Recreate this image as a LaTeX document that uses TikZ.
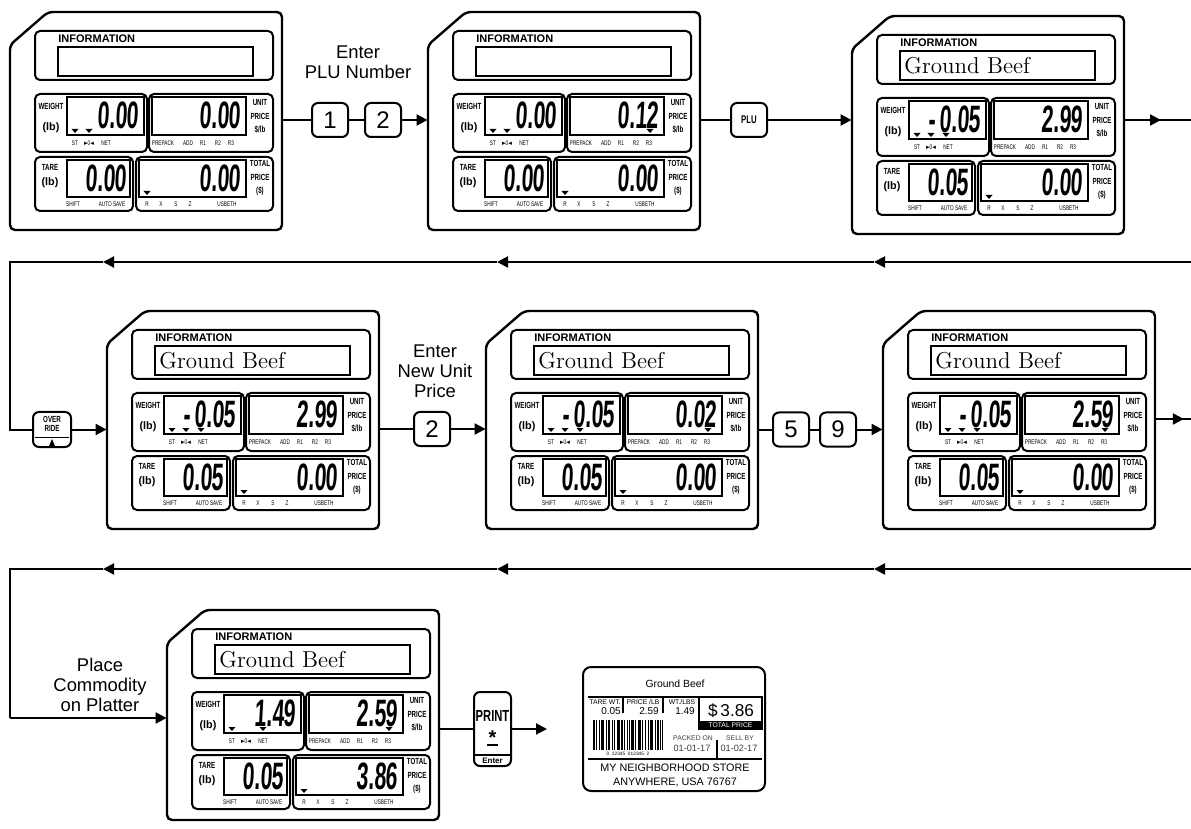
\documentclass[tikz,border=0pt]{standalone}
\usepackage{fontspec}
\usepackage{graphicx}
\usepackage{tikz}
\usetikzlibrary{arrows.meta, positioning, decorations.markings}

\newfontfamily\labelfont{Liberation Sans}
\newfontfamily\lcdfont[FakeSlant=0.1, BoldFeatures={FakeSlant=0.1}]{Liberation Sans}
\newfontfamily\symfont{DejaVu Sans}
% narrow look: small font, stretched upwards
\newcommand{\narrowtxt}[1]{\scalebox{1}[1.43]{#1}}
\newcommand{\lcdnum}[1]{\scalebox{1}[1.8]{#1}}

\def\disph{218}

% one scale display: name, top-left, info text, weight, weight marks,
% unit price, unit price mark colour, tare, total price
\newcommand{\scaledisp}[9]{%
  \begin{scope}[shift={(#2)}]
    \node[dispframe] (#1) at (136,109) {};
    \draw[dispouter] (0,33) -- (38,0) -- (272,0) -- (272,\disph) -- (0,\disph) -- cycle;
    % information
    \draw[lcdpanel] (25,19) rectangle (263,68);
    \node[infotag] at (48,27) {INFORMATION};
    \draw[lcdwin] (48,35) rectangle (243,64);
    \node[infotext] at (52,50) {#3};
    % weight
    \draw[lcdpanel] (25,82) rectangle (137,140);
    \draw[lcdwin] (57,85) rectangle (134,123);
    \node[tag] at (41,94) {\narrowtxt{WEIGHT}};
    \node[unittag] at (41,116) {(lb)};
    \node[digits] at (129,103) {\lcdnum{#4}};
    \foreach \tx in {#5} {\fill (\tx-3.5,117) -- (\tx+3.5,117) -- (\tx,121) -- cycle;}
    \node[smalltag] at (65,131) {\narrowtxt{ST}};
    \node[smalltag] at (79,131) {\narrowtxt{{\symfont ►}0{\symfont ◄}}};
    \node[smalltag] at (96,131) {\narrowtxt{NET}};
    % unit price
    \draw[lcdpanel] (139,82) rectangle (263,140);
    \draw[lcdwin] (142,85) rectangle (236,123);
    \node[digits] at (231,103) {\lcdnum{#6}};
    \fill[#7] (218.5,117) -- (225.5,117) -- (222,121) -- cycle;
    \node[stacktag] at (250,90) {\narrowtxt{UNIT}};
    \node[stacktag] at (250,104) {\narrowtxt{PRICE}};
    \node[stacktag] at (250,118) {\narrowtxt{\$/lb}};
    \node[smalltag] at (153,131) {\narrowtxt{PREPACK}};
    \node[smalltag] at (178,131) {\narrowtxt{ADD}};
    \node[smalltag] at (193,131) {\narrowtxt{R1}};
    \node[smalltag] at (208,131) {\narrowtxt{R2}};
    \node[smalltag] at (221,131) {\narrowtxt{R3}};
    % tare
    \draw[lcdpanel] (25,145) rectangle (123,199);
    \draw[lcdwin] (57,148) rectangle (120,185);
    \node[tag] at (40,155) {\narrowtxt{TARE}};
    \node[unittag] at (40,171) {(lb)};
    \node[digits] at (117,166) {\lcdnum{#8}};
    \node[smalltag] at (63,192) {\narrowtxt{SHIFT}};
    \node[smalltag] at (102,192) {\narrowtxt{AUTO SAVE}};
    % total price
    \draw[lcdpanel] (126,145) rectangle (263,199);
    \draw[lcdwin] (129,148) rectangle (236,185);
    \node[digits] at (231,166) {\lcdnum{#9}};
    \fill (133.5,179) -- (140.5,179) -- (137,183) -- cycle;
    \node[stacktag] at (250,151) {\narrowtxt{TOTAL}};
    \node[stacktag] at (250,165) {\narrowtxt{PRICE}};
    \node[stacktag] at (250,179) {\narrowtxt{(\$)}};
    \node[smalltag] at (137,192) {\narrowtxt{R}};
    \node[smalltag] at (151,192) {\narrowtxt{X}};
    \node[smalltag] at (166,192) {\narrowtxt{S}};
    \node[smalltag] at (180,192) {\narrowtxt{Z}};
    \node[smalltag] at (217,192) {\narrowtxt{USBETH}};
  \end{scope}}

\begin{document}
\begin{tikzpicture}[
    x=0.5pt, y=-0.5pt,
    dispframe/.style = {inner sep=0, minimum width=136pt, minimum height=109pt},
    dispouter/.style = {line width=1.2pt, rounded corners=2.5pt},
    lcdpanel/.style = {line width=1pt, rounded corners=2.5pt},
    lcdwin/.style = {line width=0.8pt},
    infotag/.style = {anchor=west, inner sep=0, font=\labelfont\bfseries\fontsize{5.5}{6}\selectfont},
    infotext/.style = {anchor=west, inner sep=0, font=\fontsize{11.5}{12}\selectfont},
    tag/.style = {inner sep=0, font=\labelfont\bfseries\fontsize{3.1}{4}\selectfont},
    unittag/.style = {inner sep=0, font=\labelfont\bfseries\fontsize{5.4}{6}\selectfont},
    stacktag/.style = {inner sep=0, font=\labelfont\bfseries\fontsize{3.1}{4}\selectfont},
    smalltag/.style = {inner sep=0, font=\labelfont\fontsize{2.35}{3}\selectfont},
    digits/.style = {anchor=east, inner sep=0, font=\lcdfont\bfseries\fontsize{10.6}{11}\selectfont},
    keybox/.style = {draw, line width=1pt, rounded corners=3pt, inner sep=0, minimum width=18pt, minimum height=17pt, font=\labelfont\fontsize{12}{12}\selectfont},
    steptext/.style = {align=center, font=\labelfont\fontsize{9.2}{10}\selectfont},
    conn/.style = {line width=1pt},
    flow/.style = {line width=1pt, -{Triangle[length=5.5pt,width=5.5pt]}},
    midarrow/.style = {postaction={decorate}, decoration={markings, mark=at position #1 with {\arrow{Triangle[length=5.5pt,width=5.5pt]}}}},
    labeltext/.style = {inner sep=0, font=\labelfont\fontsize{#1}{#1}\selectfont}
]
\useasboundingbox (0,0) rectangle (1191,829);

% displays
\scaledisp{d1}{10,12}{}{0.00}{65,79}{0.00}{white}{0.00}{0.00}
\scaledisp{d2}{428,12}{}{0.00}{65,79}{0.12}{black}{0.00}{0.00}
\scaledisp{d3}{852,16}{Ground Beef}{-\,0.05}{65,79,94}{2.99}{white}{0.05}{0.00}
\scaledisp{d4}{107,311}{Ground Beef}{-\,0.05}{65,79,94}{2.99}{white}{0.05}{0.00}
\scaledisp{d5}{486,311}{Ground Beef}{-\,0.05}{65,79,94}{0.02}{black}{0.05}{0.00}
\scaledisp{d6}{883,311}{Ground Beef}{-\,0.05}{65,79,94}{2.59}{black}{0.05}{0.00}
\def\disph{210}
\scaledisp{d7}{167,610}{Ground Beef}{1.49}{65,96}{2.59}{black}{0.05}{3.86}

% row 1
\node[steptext] (txtplu) at (358,62) {Enter\\PLU Number};
\node[keybox] (key1) at (330,120) {1};
\node[keybox, right=7.5pt of key1] (key2) {2};
\draw[conn] (key1 -| d1.east) -- (key1);
\draw[conn] (key1) -- (key2);
\draw[flow] (key2) -- (key2 -| d2.west);
\node[keybox, font=\labelfont\bfseries\fontsize{3.9}{4}\selectfont] (keyplu) at (749,120) {\narrowtxt{PLU}};
\draw[conn] (keyplu -| d2.east) -- (keyplu);
\draw[flow] (keyplu) -- (keyplu -| d3.west);
\coordinate (e1) at (1191,120);
\draw[conn, midarrow=0.55] (e1 -| d3.east) -- (e1);

% back to the left
\coordinate (s1r) at (1191,262);
\coordinate (s1a) at (874,262);
\coordinate (s1b) at (497,262);
\coordinate (s1c) at (103,262);
\coordinate (s1l) at (10,262);
\draw[flow] (s1r) -- (s1a);
\draw[flow] (s1a) -- (s1b);
\draw[flow] (s1b) -- (s1c);

% row 2
\node[keybox, minimum width=19pt, minimum height=17.5pt] (keyovr) at (52,429.5) {};
\node[tag] at (52,419) {\narrowtxt{OVER}};
\node[tag] at (52,428.5) {\narrowtxt{RIDE}};
\draw[line width=0.8pt] (35,437.5) -- (69,437.5);
\fill (52,439) -- (49,446) -- (55,446) -- cycle;
\draw[conn] (s1c) -- (s1l) |- (keyovr);
\draw[flow] (keyovr) -- (keyovr -| d4.west);
\node[steptext] (txtprice) at (435,371) {Enter\\New Unit\\Price};
\node[keybox] (keynew) at (432,429) {2};
\draw[conn] (keynew -| d4.east) -- (keynew);
\draw[flow] (keynew) -- (keynew -| d5.west);
\node[keybox] (key5) at (791,429.5) {5};
\node[keybox, right=4.5pt of key5] (key9) {9};
\draw[conn] (key5 -| d5.east) -- (key5);
\draw[conn] (key5) -- (key9);
\draw[flow] (key9) -- (key9 -| d6.west);
\coordinate (e2) at (1191,419);
\draw[conn, midarrow=0.8] (e2 -| d6.east) -- (e2);

% back to the left
\coordinate (s2r) at (1191,569);
\coordinate (s2a) at (874,569);
\coordinate (s2b) at (497,569);
\coordinate (s2c) at (103,569);
\coordinate (s2l) at (10,569);
\draw[flow] (s2r) -- (s2a);
\draw[flow] (s2a) -- (s2b);
\draw[flow] (s2b) -- (s2c);

% row 3
\coordinate (in7) at (100,718);
\node[steptext] (txtplace) at (100,685) {Place\\Commodity\\on Platter};
\draw[conn] (s2c) -- (s2l) -- (s2l |- in7);
\draw[flow] (s2l |- in7) -- (in7 -| d7.west);
\node[keybox, minimum width=18.5pt, minimum height=37pt] (keyprint) at (492.5,729) {};
\node[tag, font=\labelfont\bfseries\fontsize{5.6}{6}\selectfont] at (492.5,716) {\narrowtxt{PRINT}};
\node[tag, font=\labelfont\bfseries\fontsize{10}{10}\selectfont] at (492.5,738) {*};
\draw[line width=1pt] (487,745) -- (498,745);
\draw[line width=0.8pt] (475,755) -- (510,755);
\node[tag, font=\labelfont\bfseries\fontsize{4}{4}\selectfont] at (492.5,760.5) {Enter};
\coordinate (p8) at (547,729);
\draw[conn] (keyprint -| d7.east) -- (keyprint);
\draw[flow] (keyprint) -- (p8);

% printed label
\node[draw, line width=1pt, rounded corners=4pt, minimum width=91pt, minimum height=62pt] (lbl) at (674,729) {};
\node[labeltext=5.2] at (675,684) {Ground Beef};
\draw[line width=1pt] (588,697) -- (762,697);
\draw[line width=1.3pt] (623,697) -- (623,713);
\draw[line width=1.3pt] (663,697) -- (663,713);
\node[labeltext=3.4] at (605,702) {TARE WT.};
\node[labeltext=5] at (611,711) {0.05};
\node[labeltext=3.4] at (643,702) {PRICE /LB};
\node[labeltext=5] at (649,711) {2.59};
\node[labeltext=3.4] at (682,702) {WT./LBS};
\node[labeltext=5] at (685,711) {1.49};
\draw[line width=1pt] (699,697) rectangle (762,729);
\node[labeltext=8.6] at (731,711) {\$\,3.86};
\fill (699,721) rectangle (762,729);
\node[labeltext=3.4, text=white] at (730.5,725) {TOTAL PRICE};
\foreach \bx/\bw in {0/1.5, 3/1, 5.5/1, 8/3, 12.5/1, 15/2, 18.5/1, 21/1, 23.5/3, 28/1.5, 31/1, 33.5/1, 35.5/1, 38/2.5, 42/1, 44.5/3, 49/1, 51.5/1.5, 54.5/1, 57/3, 61.5/1, 64/1.5, 67/1, 69/1}
  \fill (593+\bx,720) rectangle ++(\bw,30);
\node[labeltext=2.4] at (628,753.5) {0\ \ 12345\ \ 012345\ \ 2};
\node[labeltext=3.4, text=black!75] at (693,738) {PACKED ON};
\node[labeltext=4.6, text=black!75] at (692,748) {01-01-17};
\draw[line width=1.3pt] (717,740) -- (717,758);
\node[labeltext=3.4, text=black!75] at (740,738) {SELL BY};
\node[labeltext=4.6, text=black!75] at (739,748) {01-02-17};
\draw[line width=1pt] (588,759) -- (762,759);
\node[labeltext=5.4] at (675,768) {MY NEIGHBORHOOD STORE};
\node[labeltext=5.4] at (675,782) {ANYWHERE, USA 76767};

\end{tikzpicture}
\end{document}
